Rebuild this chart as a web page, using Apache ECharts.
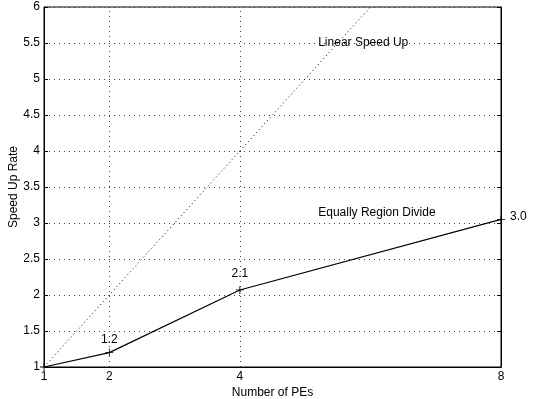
<!DOCTYPE html>
<html><head><meta charset="utf-8">
<script src="https://cdn.jsdelivr.net/npm/echarts@6/dist/echarts.min.js"></script>
<style>html,body{margin:0;padding:0;background:#fff}#c{width:534px;height:399px}</style>
</head><body><div id="c"></div>
<script>
const peCounts = [1, 2, 4, 8];
const xTickLabels = [1, 2, 4, 8];
const linearSpeedUp = [1, 2, 4, 8];
const regionDivide = [1, 1.2, 2.07, 3.05];
const pointLabels = ['', '1.2', '2.1', '3.0'];
const yMin = 1, yMax = 6, yStep = 0.5;
const xMin = 1, xMax = 8;
const gridX = [2, 4];
const notes = [
  {name: 'Linear Speed Up', coord: [5.2, 5.5]},
  {name: 'Equally Region Divide', coord: [5.2, 3.15]}
];

const FONT = 'Liberation Sans, Arial, Helvetica, sans-serif';
const FS = 12;
const chart = echarts.init(document.getElementById('c'));
const cross = 'path://M4.5,0h1v4.5h4.5v1h-4.5v4.5h-1v-4.5h-4.5v-1h4.5z';
const dotted = {type: [1, 4], color: '#444', width: 1};

chart.setOption({
  animation: false,
  backgroundColor: '#fff',
  grid: {left: 44, right: 33, top: 7, bottom: 32, show: true, borderColor: '#000', borderWidth: 1,
    containLabel: false, outerBoundsMode: 'none'},
  xAxis: [{
    type: 'value', min: xMin, max: xMax, interval: 1,
    name: 'Number of PEs', nameLocation: 'middle', nameGap: 20, nameMoveOverlap: false,
    nameTextStyle: {fontFamily: FONT, fontSize: FS, color: '#000'},
    axisLine: {show: true, lineStyle: {color: '#000'}},
    axisTick: {show: false},
    splitLine: {show: false},
    axisLabel: {fontFamily: FONT, fontSize: FS, color: '#000', margin: 4,
      formatter: v => xTickLabels.indexOf(v) >= 0 ? String(v) : ''}
  }],
  yAxis: [{
    type: 'value', min: yMin, max: yMax, interval: yStep,
    name: 'Speed Up Rate', nameLocation: 'middle', nameGap: 24, nameMoveOverlap: false,
    nameTextStyle: {fontFamily: FONT, fontSize: FS, color: '#000'},
    axisLine: {show: true, lineStyle: {color: '#000'}},
    axisTick: {show: true, inside: true, length: 4, lineStyle: {color: '#000'}},
    splitLine: {show: true, lineStyle: dotted},
    axisLabel: {fontFamily: FONT, fontSize: FS, color: '#000', margin: 4,
      formatter: v => String(Math.round(v * 10) / 10)}
  }, {
    type: 'value', min: yMin, max: yMax, interval: yStep, position: 'right',
    axisLine: {show: true, lineStyle: {color: '#000'}},
    axisTick: {show: true, inside: true, length: 4, lineStyle: {color: '#000'}},
    splitLine: {show: false}, axisLabel: {show: false}
  }],
  series: [{
    type: 'line',
    data: peCounts.map((x, i) => [x, linearSpeedUp[i]]),
    clip: true,
    symbol: 'none',
    lineStyle: {color: '#000', width: 1, type: [1, 3]},
    markLine: {
      silent: true, symbol: 'none', label: {show: false},
      lineStyle: dotted,
      data: gridX.map(x => ({xAxis: x}))
    },
    markPoint: {
      symbol: 'circle', symbolSize: 0,
      label: {show: true, position: 'right', distance: 0, formatter: p => p.name,
        fontFamily: FONT, fontSize: FS, color: '#000'},
      data: notes.map(n => ({name: n.name, coord: n.coord}))
    },
    z: 2
  }, {
    type: 'line',
    data: peCounts.map((x, i) => ({
      value: [x, regionDivide[i]],
      label: i === peCounts.length - 1 ? {position: 'right', distance: 5, offset: [0, -3]} : {position: 'top', distance: i === 2 ? 6 : 3}
    })),
    symbol: cross, symbolSize: 8, showAllSymbol: true,
    itemStyle: {color: '#000'},
    lineStyle: {color: '#000', width: 1.2},
    label: {show: true, fontFamily: FONT, fontSize: FS, color: '#000',
      formatter: p => pointLabels[p.dataIndex]},
    z: 3
  }]
});
</script></body></html>
